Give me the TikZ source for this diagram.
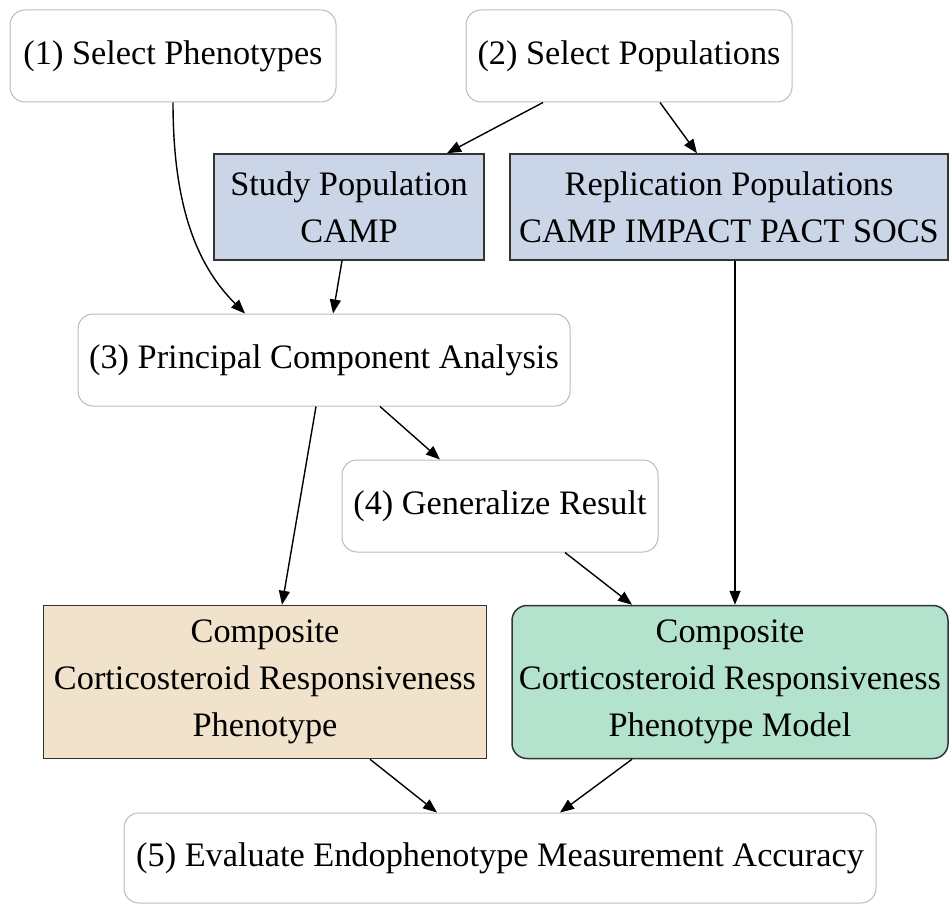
\documentclass[tikz,border=0pt]{standalone}
\usepackage{fontspec}
\setmainfont{Liberation Serif}
\usepackage{xcolor}
\usetikzlibrary{arrows.meta,positioning}
\definecolor{popblue}{HTML}{CBD5E8}
\definecolor{phenotan}{HTML}{F1E2CC}
\definecolor{modelgreen}{HTML}{B3E2CD}
\definecolor{edgegray}{HTML}{BBBBBB}
\definecolor{darkline}{HTML}{333333}

\begin{document}
\begin{tikzpicture}[
    x=1pt, y=-1pt,
    font=\fontsize{34.3}{47}\selectfont,
    stage/.style={rectangle, rounded corners=15pt, draw=edgegray, line width=1pt, fill=white, align=center, inner sep=0pt},
    popbox/.style={rectangle, draw=darkline, line width=1.5pt, fill=popblue, align=center, inner sep=0pt, minimum height=106pt},
    phenobox/.style={rectangle, draw=darkline, line width=1.5pt, fill=phenotan, align=center, inner sep=0pt, minimum height=153pt},
    modelbox/.style={rectangle, rounded corners=15pt, draw=darkline, line width=1.5pt, fill=modelgreen, align=center, inner sep=0pt, minimum height=153pt},
    arrow/.style={-{Triangle[length=14pt,width=11pt]}, line width=1.4pt, color=black}
]
    \useasboundingbox (0,0) rectangle (950,904);

    \node[stage, minimum width=326pt, minimum height=92pt] (phen) at (173,56) {(1) Select Phenotypes};
    \node[stage, minimum width=326pt, minimum height=92pt] (pops) at (629,56) {(2) Select Populations};
    \node[popbox, minimum width=270pt] (study) at (349,207) {Study Population\\CAMP};
    \node[popbox, minimum width=438pt] (repl) at (729,207) {Replication Populations\\CAMP IMPACT PACT SOCS};
    \node[stage, minimum width=492pt, minimum height=92pt] (pca) at (324,360) {(3) Principal Component Analysis};
    \node[stage, minimum width=316pt, minimum height=92pt] (gen) at (500,506) {(4) Generalize Result};
    \node[phenobox, minimum width=443pt] (comp) at (265,682) {Composite\\Corticosteroid Responsiveness\\Phenotype};
    \node[modelbox, minimum width=436pt] (model) at (730,682) {Composite\\Corticosteroid Responsiveness\\Phenotype Model};
    \node[stage, minimum width=752pt, minimum height=90pt] (eval) at (500,858) {(5) Evaluate Endophenotype Measurement Accuracy};

    \draw[arrow] (phen.south) .. controls +(0,110) and +(-45,-45) .. ([xshift=-79pt]pca.north);
    \draw[arrow] ([xshift=-86pt]pops.south) -- ([xshift=98pt]study.north);
    \draw[arrow] ([xshift=31pt]pops.south) -- ([xshift=-32pt]repl.north);
    \draw[arrow] ([xshift=-7pt]study.south) -- ([xshift=9pt]pca.north);
    \draw[arrow] ([xshift=6pt]repl.south) -- ([xshift=5pt]model.north);
    \draw[arrow] ([xshift=-8pt]pca.south) -- ([xshift=17pt]comp.north);
    \draw[arrow] ([xshift=56pt]pca.south) -- ([xshift=-60pt]gen.north);
    \draw[arrow] ([xshift=65pt]gen.south) -- ([xshift=-98pt]model.north);
    \draw[arrow] ([xshift=105pt]comp.south) -- ([xshift=-63pt]eval.north);
    \draw[arrow] ([xshift=-98pt]model.south) -- ([xshift=60pt]eval.north);
\end{tikzpicture}
\end{document}
